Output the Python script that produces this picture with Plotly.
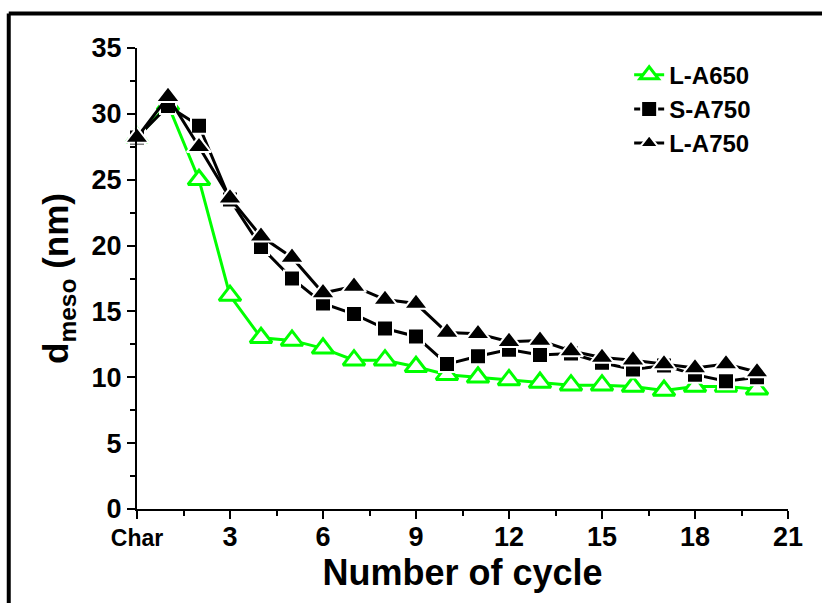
import plotly.graph_objects as go

cycles = list(range(0, 21))
tick_vals = [0, 3, 6, 9, 12, 15, 18, 21]
tick_text = ["<span style='font-size:23px'>Char</span>", "3", "6", "9", "12", "15", "18", "21"]

l_a650 = [28.2, 30.7, 25.0, 16.2, 13.0, 12.8, 12.2, 11.3, 11.3, 10.8, 10.2,
          10.0, 9.8, 9.6, 9.4, 9.4, 9.3, 9.0, 9.3, 9.3, 9.1]
s_a750 = [28.2, 30.6, 29.1, 23.5, 19.9, 17.5, 15.6, 14.8, 13.7, 13.1, 11.0,
          11.6, 12.1, 11.7, 11.8, 11.1, 10.6, 10.9, 10.2, 9.7, 10.0]
l_a750 = [28.2, 31.3, 27.5, 23.6, 20.7, 19.1, 16.4, 16.9, 15.9, 15.6, 13.4,
          13.3, 12.7, 12.8, 12.0, 11.5, 11.3, 11.0, 10.7, 11.0, 10.4]

FONT = "Arial, 'Liberation Sans', sans-serif"
GREEN = "#00ff00"

fig = go.Figure()
fig.add_trace(go.Scatter(
    x=cycles, y=l_a650, name="L-A650", mode="lines+markers", cliponaxis=False,
    line=dict(color=GREEN, width=3),
    marker=dict(symbol="triangle-up", size=19, color="white",
                line=dict(color=GREEN, width=3)),
))
fig.add_trace(go.Scatter(
    x=cycles, y=s_a750, name="S-A750", mode="lines+markers", cliponaxis=False,
    line=dict(color="black", width=3),
    marker=dict(symbol="square", size=16, color="black",
                line=dict(color="white", width=2)),
))
fig.add_trace(go.Scatter(
    x=cycles, y=l_a750, name="L-A750", mode="lines+markers", cliponaxis=False,
    line=dict(color="black", width=3),
    marker=dict(symbol="triangle-up", size=21, color="black",
                line=dict(color="white", width=2)),
))

axis_common = dict(
    showline=True, linecolor="black", linewidth=2, mirror=False,
    ticks="outside", ticklen=8, tickwidth=2, tickcolor="black",
    showgrid=False, zeroline=False,
    tickfont=dict(family=FONT, size=27, color="black", weight="bold"),
)

fig.update_xaxes(
    range=[0, 21], tickmode="array", tickvals=tick_vals, ticktext=tick_text,
    ticklabelstandoff=-5,
    minor=dict(ticks="outside", dtick=1.5, tick0=0, ticklen=5, tickwidth=2, tickcolor="black"),
    title=dict(text="Number of cycle", standoff=2,
               font=dict(family=FONT, size=36, color="black", weight="bold")),
    **axis_common,
)
fig.update_yaxes(
    range=[0, 35], dtick=5, tick0=0,
    minor=dict(ticks="outside", dtick=2.5, tick0=0, ticklen=5, tickwidth=2, tickcolor="black"),
    title=dict(text="d<sub>meso</sub> (nm)", standoff=12,
               font=dict(family=FONT, size=35, color="black", weight="bold")),
    **axis_common,
)

# outer frame (top and left border of the original figure)
fig.add_shape(type="line", xref="paper", yref="paper", x0=-0.197, x1=1.2, y0=1.075, y1=1.075,
              line=dict(color="black", width=4))
fig.add_shape(type="line", xref="paper", yref="paper", x0=-0.197, x1=-0.197, y0=-0.4, y1=1.075,
              line=dict(color="black", width=4))

fig.update_layout(
    width=822, height=603,
    margin=dict(l=137, r=34, t=48, b=94),
    paper_bgcolor="white", plot_bgcolor="white",
    showlegend=True,
    legend=dict(x=0.756, y=0.99, xanchor="left", yanchor="top",
                bgcolor="rgba(0,0,0,0)", borderwidth=0,
                font=dict(family=FONT, size=24, color="black", weight="bold")),
)

fig.write_html("out.html")
